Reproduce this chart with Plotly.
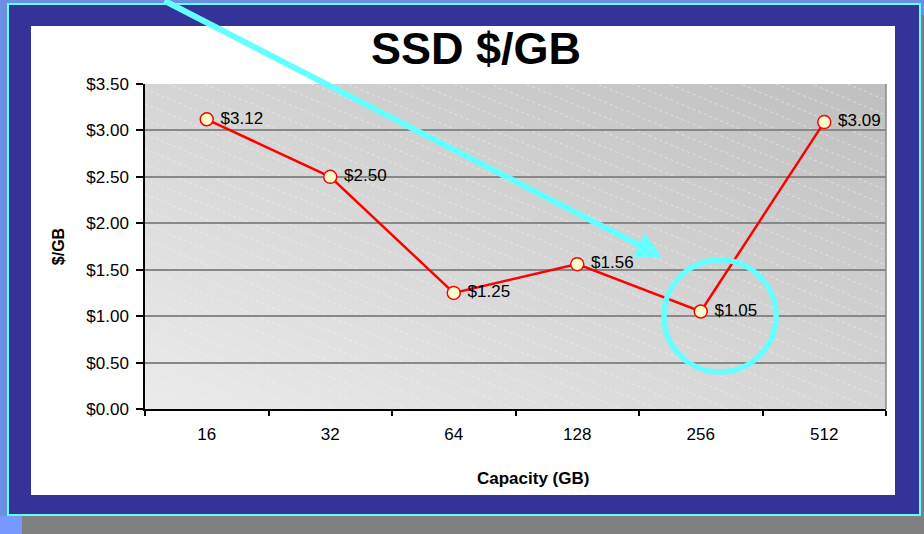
import base64
import plotly.graph_objects as go

# ---- data ----
capacity = ["16", "32", "64", "128", "256", "512"]
price_per_gb = [3.12, 2.50, 1.25, 1.56, 1.05, 3.09]
y_ticks = [0.0, 0.5, 1.0, 1.5, 2.0, 2.5, 3.0, 3.5]
y_tick_text = ["$0.00", "$0.50", "$1.00", "$1.50", "$2.00", "$2.50", "$3.00", "$3.50"]
point_labels = ["$3.12", "$2.50", "$1.25", "$1.56", "$1.05", "$3.09"]

W, H = 924, 534
L, R, T, B = 145, 38, 84, 125
PW, PH = W - L - R, H - T - B


def px(x):
    return (x - L) / PW


def py(y):
    return (H - B - y) / PH


# ---- plot-area background (gradient + dashed hatch) as svg ----
hatch = []
y0 = -340
while y0 < PH + 10:
    hatch.append(f'<line x1="0" y1="{y0}" x2="{PW}" y2="{y0 + 0.42 * PW:.1f}"/>')
    y0 += 15
svg = (
    f'<svg xmlns="http://www.w3.org/2000/svg" width="{PW}" height="{PH}" '
    f'viewBox="0 0 {PW} {PH}" preserveAspectRatio="none">'
    '<defs><linearGradient id="g" x1="0" y1="1" x2="1" y2="0">'
    '<stop offset="0" stop-color="#ebebeb"/><stop offset="1" stop-color="#bfbfbf"/>'
    '</linearGradient></defs>'
    f'<rect width="{PW}" height="{PH}" fill="url(#g)"/>'
    '<g stroke="#f4f4f4" stroke-width="0.8" stroke-dasharray="3,3" opacity="0.75">'
    + "".join(hatch) + '</g></svg>'
)
svg_uri = "data:image/svg+xml;base64," + base64.b64encode(svg.encode()).decode()

fig = go.Figure()
fig.add_trace(go.Scatter(
    x=capacity, y=price_per_gb,
    mode="lines+markers+text",
    line=dict(color="#ff0000", width=2.5),
    marker=dict(size=13, color="#ffffcc", line=dict(color="#ff0000", width=1.5)),
    text=[" " + s for s in point_labels],
    textposition="middle right",
    textfont=dict(family="Liberation Sans, Arial", size=17, color="#000000"),
    cliponaxis=False,
    showlegend=False,
))


# ---- frame rectangles (none overlap the plot area) ----
def rect(x0, y0, x1, y1, color):
    return dict(type="rect", xref="paper", yref="paper",
                x0=px(x0), x1=px(x1), y0=py(y1), y1=py(y0),
                fillcolor=color, line=dict(width=0), layer="below")


LB, CY, DB, GR, WH = "#6b8fe3", "#66ffff", "#333399", "#808080", "#ffffff"
shapes = [
    rect(0, 0, W, 3, LB),
    rect(0, 0, 7, 516, LB),
    rect(921, 0, W, 15, LB),
    rect(921, 15, W, H, GR),
    rect(7, 3, 921, 5, CY),
    rect(7, 3, 9, 516, CY),
    rect(919, 3, 921, 516, CY),
    rect(7, 514, 921, 516, CY),
    rect(0, 516, 22, H, "#7799ff"),
    rect(22, 516, 921, H, GR),
    # white panel ring around plot area
    rect(31, 26, 895, T, WH),
    rect(31, H - B, 895, 495, WH),
    rect(31, T, L, H - B, WH),
    rect(W - R, T, 895, H - B, WH),
    # right border of plot area
    dict(type="line", xref="paper", yref="paper", x0=1, x1=1, y0=0, y1=1,
         line=dict(color="#888888", width=1.5), layer="above"),
    # highlight circle
    dict(type="circle", xref="paper", yref="paper",
         x0=px(664), x1=px(776), y0=py(372), y1=py(260),
         line=dict(color=CY, width=5.5), layer="above"),
]

fig.update_layout(
    width=W, height=H,
    margin=dict(l=L, r=R, t=T, b=B, autoexpand=False),
    paper_bgcolor=DB,
    plot_bgcolor="rgba(0,0,0,0)",
    font=dict(family="Liberation Sans, Arial", color="#000000"),
    title=dict(text="<b>SSD $/GB</b>", font=dict(size=45, color="#000000"),
               x=476 / W, xref="container", xanchor="center",
               y=1 - 48 / H, yref="container", yanchor="middle"),
    shapes=shapes,
    images=[dict(source=svg_uri, xref="paper", yref="paper", x=0, y=1,
                 sizex=1, sizey=1, sizing="stretch", xanchor="left",
                 yanchor="top", layer="below")],
    annotations=[
        dict(xref="paper", yref="paper", x=px(662), y=py(257),
             ax=-499, ay=-270, axref="pixel", ayref="pixel",
             showarrow=True, arrowhead=2, arrowsize=0.87, arrowwidth=6,
             arrowcolor=CY, text=""),
        dict(xref="paper", yref="paper", x=px(533), y=py(478),
             xanchor="center", yanchor="middle", showarrow=False,
             text="<b>Capacity (GB)</b>", font=dict(size=17, color="#000000")),
    ],
)

fig.update_xaxes(
    type="category", range=[-0.5, len(capacity) - 0.5], tickson="boundaries",
    ticks="outside", ticklen=5, tickwidth=1.5, tickcolor="#000000",
    showline=True, linecolor="#000000", linewidth=1.5,
    showgrid=False, tickfont=dict(size=17),
    ticklabelstandoff=9,
)
fig.update_yaxes(
    range=[0, 3.5], tickmode="array", tickvals=y_ticks, ticktext=y_tick_text,
    ticks="outside", ticklen=7, tickwidth=1.5, tickcolor="#000000",
    showline=True, linecolor="#000000", linewidth=1.5,
    showgrid=True, gridcolor="#888888", gridwidth=1.5,
    zeroline=False, tickfont=dict(size=17), ticklabelstandoff=4,
    title=dict(text="<b>$/GB</b>", font=dict(size=16), standoff=18),
)

fig.write_html("out.html", config={"displayModeBar": False},
               post_script="document.body.style.margin='0';")
